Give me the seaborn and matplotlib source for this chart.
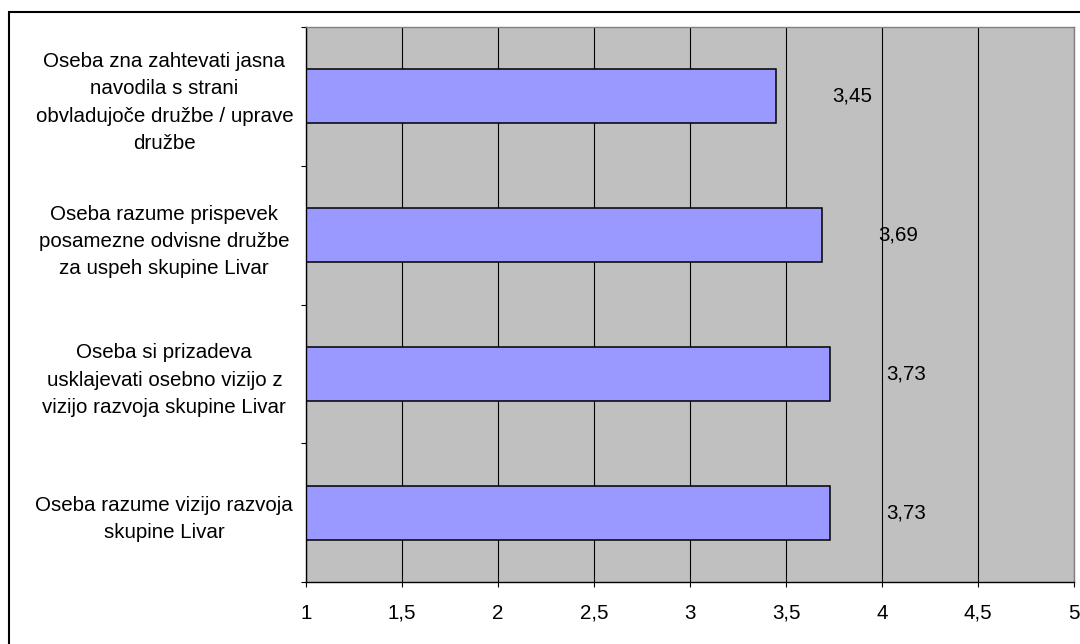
import matplotlib
matplotlib.use('Agg')
import matplotlib.pyplot as plt
import matplotlib.ticker as mticker
from matplotlib.patches import Rectangle
import pandas as pd
import seaborn as sns

labels = [
    'Oseba zna zahtevati jasna\nnavodila s strani\nobvladujoče družbe / uprave\ndružbe',
    'Oseba razume prispevek\nposamezne odvisne družbe\nza uspeh skupine Livar',
    'Oseba si prizadeva\nusklajevati osebno vizijo z\nvizijo razvoja skupine Livar',
    'Oseba razume vizijo razvoja\nskupine Livar',
]
values = [3.45, 3.69, 3.73, 3.73]
xticks = [1, 1.5, 2, 2.5, 3, 3.5, 4, 4.5, 5]

sns.set_style('white')
plt.rcParams['font.family'] = ['Liberation Sans', 'DejaVu Sans']
plt.rcParams['font.size'] = 14.8
for k in ['text.color', 'axes.labelcolor', 'xtick.color', 'ytick.color']:
    plt.rcParams[k] = 'black'

df = pd.DataFrame({'trditev': labels, 'ocena': values})

fig = plt.figure(figsize=(10.8, 6.44), dpi=100)
ax = fig.add_axes([306 / 1080, 1 - 582 / 644, 768 / 1080, 555 / 644])
ax.set_facecolor('#C0C0C0')
ax.set_axisbelow(True)
ax.grid(axis='x', color='black', lw=0.8)

sns.barplot(data=df, x='ocena', y='trditev', orient='h', color='#9999FF',
            saturation=1, edgecolor='black', linewidth=1.1, width=0.39, ax=ax)

# oznake vrednosti z decimalno vejico
for cont in ax.containers:
    ax.bar_label(cont, labels=[f'{v:.2f}'.replace('.', ',') for v in values],
                 padding=40, fontsize=14.8, color='black')

ax.set_xlim(1, 5)
ax.set_ylim(3.5, -0.5)
ax.set_xticks(xticks)
ax.xaxis.set_major_formatter(mticker.FuncFormatter(lambda v, _: f'{v:g}'.replace('.', ',')))
ax.tick_params(axis='x', direction='out', length=3.6, width=0.8, color='black', pad=12,
               bottom=True)

ax.set_yticks(range(len(labels)))
ax.set_yticklabels(labels, ha='center', linespacing=1.55)
ax.set_yticks([-0.5, 0.5, 1.5, 2.5, 3.5], minor=True)
ax.tick_params(axis='y', which='major', length=0, pad=102, left=True)
ax.tick_params(axis='y', which='minor', direction='out', length=3.6, width=0.8,
               color='black', left=True)
ax.set_xlabel('')
ax.set_ylabel('')

for side in ['left', 'bottom']:
    ax.spines[side].set_color('black')
    ax.spines[side].set_linewidth(1)
for side in ['top', 'right']:
    ax.spines[side].set_color('#808080')
    ax.spines[side].set_linewidth(1)

fig.patches.append(Rectangle((9 / 1080, -1), 5, 2 - 11.5 / 644, fill=False,
                             ec='black', lw=1.5, transform=fig.transFigure, figure=fig))

fig.savefig('out.png', dpi=100)
